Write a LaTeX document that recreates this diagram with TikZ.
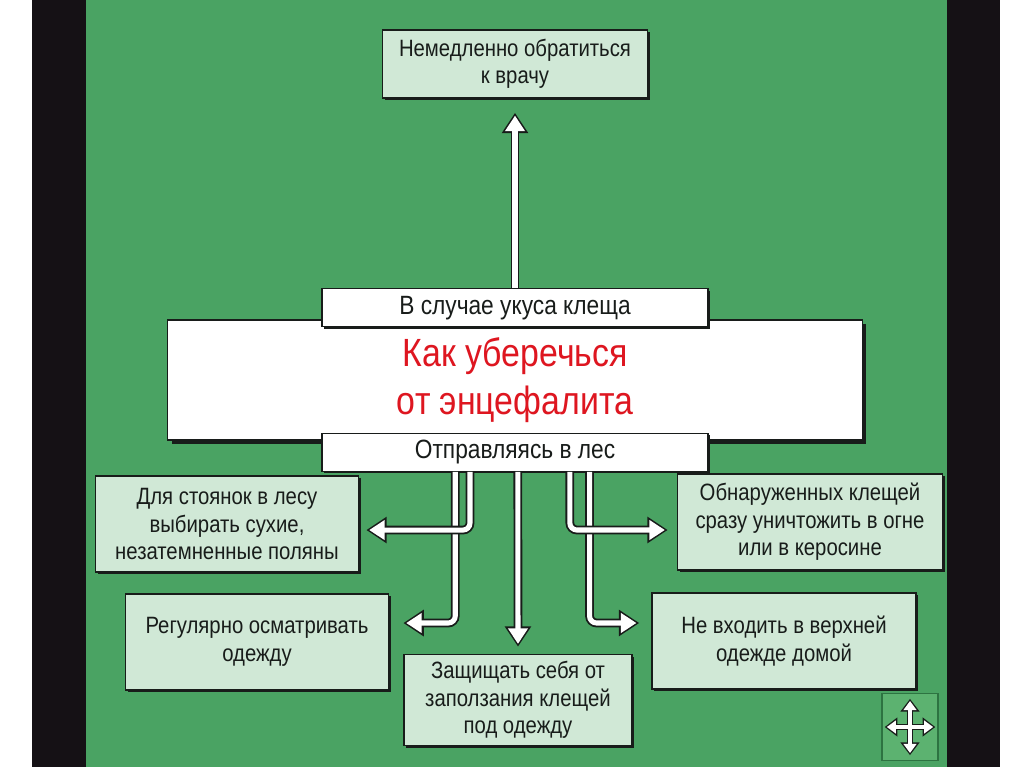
\documentclass[tikz,border=0pt]{standalone}
\usepackage{fontspec}
\setmainfont[FakeStretch=0.86]{Liberation Sans}
\usetikzlibrary{positioning,arrows.meta,shadows}

\definecolor{field}{RGB}{74,163,99}
\definecolor{curtain}{RGB}{21,17,21}
\definecolor{card}{RGB}{208,232,214}
\definecolor{edge}{RGB}{24,28,26}
\definecolor{alarm}{RGB}{222,22,32}
\definecolor{navfill}{RGB}{92,178,112}
\definecolor{navline}{RGB}{45,115,65}

\begin{document}
\begin{tikzpicture}[
  x=0.025cm, y=-0.025cm,
  every node/.style={align=center, inner sep=2pt},
  card/.style={draw=edge, line width=1.1pt, fill=card, text=edge,
    font=\fontsize{16.8}{19.5}\selectfont,
    drop shadow={shadow xshift=1.6pt, shadow yshift=-1.6pt, fill=edge, opacity=1}},
  banner/.style={draw=edge, line width=0.9pt, fill=white, text=edge,
    minimum width=9.65cm, minimum height=0.95cm, font=\fontsize{18.8}{21}\selectfont,
    drop shadow={shadow xshift=1.6pt, shadow yshift=-1.6pt, fill=edge, opacity=1}},
  title/.style={draw=edge, line width=0.8pt, fill=white, text=alarm,
    minimum width=17.35cm, minimum height=3cm, font=\fontsize{28}{34}\selectfont,
    drop shadow={shadow xshift=3pt, shadow yshift=-3pt, fill=edge, opacity=1}},
  hollow/.style={draw=white, line width=3.6pt, rounded corners=5pt,
    shorten >=#1+2pt, -{Triangle[length=11pt, width=13.5pt]},
    preaction={draw=edge, line width=6.2pt, shorten >=#1,
      -{Triangle[length=14.5pt, width=18pt]}}},
  hollow/.default=5pt,
  navdark/.style={edge, line width=4.6pt,
    {Triangle[length=9pt, width=13pt]}-{Triangle[length=9pt, width=13pt]}},
  navlight/.style={white, line width=2.2pt, shorten <=1.5pt, shorten >=1.5pt,
    {Triangle[length=6.5pt, width=9pt]}-{Triangle[length=6.5pt, width=9pt]}}
]
  % slide background
  \useasboundingbox (0,0) rectangle (1024,767);
  \fill[white] (0,0) rectangle (1024,767);
  \fill[curtain] (32,0) rectangle (1000,767);
  \fill[field] (86,0) rectangle (947,767);

  \node[title] (main) at (515,380) {Как уберечься\\от энцефалита};
  \node[banner, above=-0.2cm of main] (bite) {В случае укуса клеща};
  \node[banner, below=-0.2cm of main] (forest) {Отправляясь в лес};

  \node[card, minimum width=6.625cm, minimum height=1.7cm] (doctor) at (515,64) {Немедленно обратиться\\к врачу};

  \node[card, minimum width=6.575cm, minimum height=2.4cm] (camp) at (227,524) {Для стоянок в лесу\\выбирать сухие,\\незатемненные поляны};
  \node[card, minimum width=6.625cm, minimum height=2.4cm] (burn) at (810,522) {Обнаруженных клещей\\сразу уничтожить в огне\\или в керосине};
  \node[card, minimum width=6.575cm, minimum height=2.4cm] (inspect) at (257,642) {Регулярно осматривать\\одежду};
  \node[card, minimum width=6.6cm, minimum height=2.4cm] (home) at (784,641) {Не входить в верхней\\одежде домой};
  \node[card, minimum width=5.7cm, minimum height=2.275cm] (shield) at (518,700) {Защищать себя от\\заползания клещей\\под одежду};

  \draw[hollow=10pt] (bite.north) -- (doctor.south);

  \draw[hollow=10pt] ([xshift=-42.5pt]forest.south) |- ([yshift=13.5pt]inspect.east);
  \draw[hollow=8.5pt] ([xshift=53pt]forest.south) |- ([yshift=12.8pt]home.west);
  \draw[hollow] ([xshift=-32pt]forest.south) |- ([yshift=-4.3pt]camp.east);
  \draw[hollow=6.4pt] ([xshift=39pt]forest.south) |- ([yshift=-5.7pt]burn.west);
  \draw[hollow] ([xshift=2pt]forest.south) -- (shield.north);

  % navigation sign
  \node[draw=navline, fill=navfill, line width=0.8pt, minimum width=1.4cm, minimum height=1.675cm] (nav) at (910,727) {};
  \draw[navdark] ([xshift=-18pt]nav.center) -- ([xshift=18pt]nav.center);
  \draw[navdark] ([yshift=20pt]nav.center) -- ([yshift=-20pt]nav.center);
  \draw[navlight] ([xshift=-18pt]nav.center) -- ([xshift=18pt]nav.center);
  \draw[navlight] ([yshift=20pt]nav.center) -- ([yshift=-20pt]nav.center);
\end{tikzpicture}
\end{document}
